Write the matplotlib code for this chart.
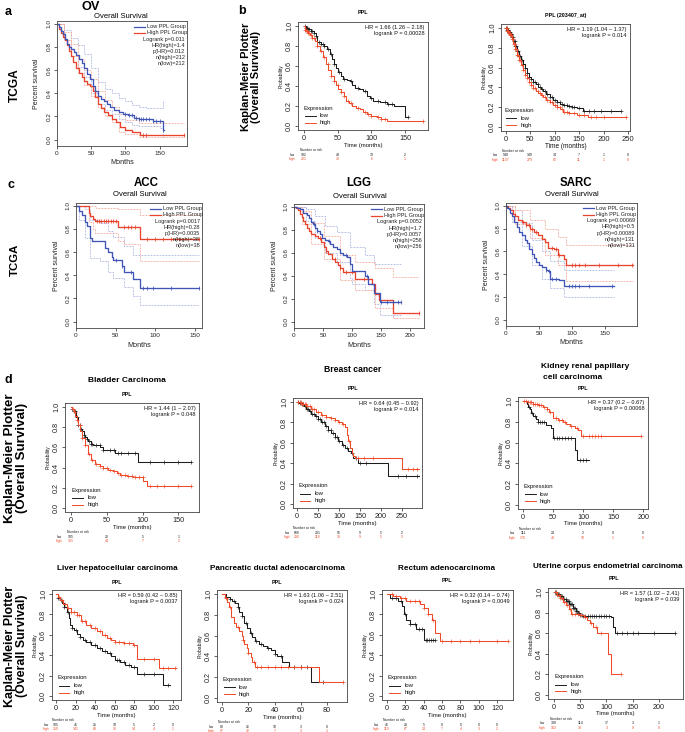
import numpy as np
import matplotlib
matplotlib.use("Agg")
import matplotlib.pyplot as plt

plt.rcParams['font.family'] = ['Liberation Sans', 'DejaVu Sans']

# ======================= DATA =======================
# ---- TCGA / GEPIA panels (months, survival) ----
ov_low_t = [0, 3, 6, 9, 12, 15, 18, 21, 25, 28, 32, 36, 40, 44, 48, 52, 56, 60, 64, 68, 73, 78, 84, 90, 96, 104, 112, 120, 140, 155, 156]
ov_low_s = [1.0, 0.97, 0.94, 0.91, 0.87, 0.83, 0.80, 0.78, 0.76, 0.73, 0.70, 0.66, 0.62, 0.57, 0.52, 0.46, 0.42, 0.38, 0.35, 0.33, 0.31, 0.28, 0.26, 0.24, 0.22, 0.21, 0.19, 0.18, 0.16, 0.08, 0.08]
ov_high_t = [0, 3, 6, 9, 12, 15, 18, 21, 24, 28, 32, 36, 40, 44, 48, 52, 56, 60, 64, 68, 74, 80, 86, 92, 100, 110, 122, 185]
ov_high_s = [1.0, 0.96, 0.92, 0.89, 0.86, 0.82, 0.77, 0.72, 0.67, 0.62, 0.58, 0.54, 0.51, 0.48, 0.46, 0.42, 0.37, 0.31, 0.27, 0.24, 0.21, 0.18, 0.15, 0.11, 0.08, 0.07, 0.04, 0.04]
ov_low_up_t = [0, 10, 20, 30, 40, 50, 60, 70, 80, 90, 100, 110, 120, 130, 155, 156]
ov_low_up_s = [1.0, 0.95, 0.88, 0.82, 0.74, 0.62, 0.50, 0.44, 0.40, 0.36, 0.33, 0.30, 0.28, 0.27, 0.33, 0.33]
ov_low_lo_t = [0, 10, 20, 30, 40, 50, 60, 70, 80, 90, 100, 110, 120, 150, 155, 156]
ov_low_lo_s = [1.0, 0.86, 0.72, 0.63, 0.54, 0.40, 0.31, 0.26, 0.22, 0.18, 0.15, 0.13, 0.12, 0.10, 0.02, 0.02]
ov_high_up_t = [0, 10, 20, 30, 40, 50, 60, 70, 80, 90, 100, 120, 185]
ov_high_up_s = [1.0, 0.93, 0.83, 0.70, 0.60, 0.52, 0.42, 0.34, 0.28, 0.22, 0.17, 0.14, 0.14]
ov_high_lo_t = [0, 10, 20, 30, 40, 50, 60, 70, 80, 90, 100, 120, 185]
ov_high_lo_s = [1.0, 0.86, 0.72, 0.58, 0.47, 0.38, 0.28, 0.20, 0.15, 0.07, 0.05, 0.02, 0.02]
ov_low_cens = [100, 105, 110, 115, 120, 123, 126, 130, 135, 140, 145, 150, 155]
ov_high_cens = [125, 130, 185]

acc_low_t = [0, 4, 7, 11, 14, 18, 20, 37, 41, 45, 47, 58, 60, 72, 81, 155]
acc_low_s = [1.0, 0.96, 0.92, 0.86, 0.83, 0.72, 0.70, 0.64, 0.60, 0.56, 0.53, 0.48, 0.43, 0.37, 0.29, 0.29]
acc_high_t = [0, 16, 18, 21, 24, 53, 81, 155]
acc_high_s = [1.0, 0.94, 0.91, 0.89, 0.87, 0.82, 0.71, 0.71]
acc_low_up_t = [0, 4, 11, 18, 30, 41, 47, 60, 72, 81, 155]
acc_low_up_s = [1.0, 1.0, 0.97, 0.88, 0.85, 0.78, 0.73, 0.65, 0.58, 0.58, 0.58]
acc_low_lo_t = [0, 4, 11, 18, 30, 41, 47, 60, 72, 81, 155]
acc_low_lo_s = [1.0, 0.88, 0.72, 0.55, 0.52, 0.43, 0.38, 0.30, 0.22, 0.14, 0.14]
acc_high_up_t = [0, 16, 25, 53, 81, 155]
acc_high_up_s = [1.0, 1.0, 0.98, 0.97, 0.92, 0.92]
acc_high_lo_t = [0, 16, 21, 24, 53, 60, 81, 155]
acc_high_lo_s = [1.0, 0.86, 0.80, 0.77, 0.70, 0.67, 0.52, 0.52]
acc_low_cens = [50, 58, 70, 85, 90, 97, 120, 155]
acc_high_cens = [26, 29, 32, 35, 38, 41, 44, 47, 50, 60, 65, 70, 75, 90, 100, 110, 120, 130, 155]

lgg_low_t = [0, 6, 10, 16, 22, 26, 30, 33, 36, 40, 45, 49, 53, 58, 62, 68, 74, 80, 85, 92, 97, 100, 122, 128, 137, 148, 185]
lgg_low_s = [1.0, 0.99, 0.98, 0.95, 0.93, 0.90, 0.87, 0.85, 0.82, 0.79, 0.76, 0.73, 0.71, 0.70, 0.68, 0.65, 0.63, 0.60, 0.58, 0.56, 0.50, 0.44, 0.40, 0.33, 0.25, 0.17, 0.17]
lgg_high_t = [0, 4, 7, 10, 13, 16, 19, 22, 26, 30, 36, 42, 46, 51, 55, 59, 65, 71, 75, 79, 85, 105, 134, 140, 147, 171, 215]
lgg_high_s = [1.0, 0.99, 0.97, 0.94, 0.91, 0.88, 0.85, 0.82, 0.79, 0.76, 0.75, 0.73, 0.69, 0.65, 0.62, 0.59, 0.55, 0.52, 0.49, 0.47, 0.43, 0.37, 0.33, 0.24, 0.19, 0.08, 0.08]
lgg_low_up_t = [0, 20, 36, 53, 74, 97, 122, 137, 148, 185]
lgg_low_up_s = [1.0, 0.98, 0.92, 0.83, 0.78, 0.65, 0.58, 0.50, 0.50, 0.50]
lgg_low_lo_t = [0, 20, 36, 53, 74, 97, 100, 122, 137, 148, 185]
lgg_low_lo_s = [1.0, 0.88, 0.73, 0.60, 0.52, 0.38, 0.33, 0.28, 0.15, 0.06, 0.06]
lgg_high_up_t = [0, 13, 30, 51, 79, 105, 140, 171, 215]
lgg_high_up_s = [1.0, 0.96, 0.86, 0.75, 0.58, 0.52, 0.47, 0.39, 0.39]
lgg_high_lo_t = [0, 13, 30, 51, 79, 105, 140, 171, 215]
lgg_high_lo_s = [1.0, 0.85, 0.68, 0.55, 0.36, 0.28, 0.12, 0.03, 0.03]
lgg_low_cens = [35, 40, 60, 90, 125, 150, 160, 170, 180, 185]
lgg_high_cens = [45, 55, 70, 80, 90, 100, 120, 215]

sarc_low_t = [0, 2, 4, 6, 9, 12, 16, 20, 24, 28, 31, 35, 39, 43, 46, 50, 54, 60, 64, 67, 80, 87, 163]
sarc_low_s = [1.0, 0.98, 0.97, 0.94, 0.91, 0.86, 0.81, 0.77, 0.74, 0.70, 0.67, 0.62, 0.58, 0.54, 0.51, 0.48, 0.46, 0.44, 0.43, 0.36, 0.35, 0.30, 0.30]
sarc_high_t = [0, 3, 6, 10, 14, 18, 24, 30, 36, 42, 49, 54, 59, 64, 72, 79, 87, 91, 192]
sarc_high_s = [1.0, 0.98, 0.96, 0.93, 0.91, 0.88, 0.86, 0.83, 0.80, 0.77, 0.74, 0.71, 0.68, 0.63, 0.62, 0.57, 0.53, 0.48, 0.48]
sarc_low_up_t = [0, 9, 24, 39, 54, 67, 87, 163]
sarc_low_up_s = [1.0, 0.96, 0.85, 0.70, 0.60, 0.52, 0.44, 0.44]
sarc_low_lo_t = [0, 9, 24, 39, 54, 67, 87, 163]
sarc_low_lo_s = [1.0, 0.86, 0.65, 0.48, 0.36, 0.28, 0.20, 0.20]
sarc_high_up_t = [0, 14, 36, 59, 79, 91, 192]
sarc_high_up_s = [1.0, 0.96, 0.88, 0.80, 0.73, 0.66, 0.66]
sarc_high_lo_t = [0, 14, 36, 59, 79, 91, 192]
sarc_high_lo_s = [1.0, 0.84, 0.72, 0.57, 0.48, 0.34, 0.34]
sarc_low_cens = [60, 65, 70, 75, 95, 100, 105, 110, 125, 160]
sarc_high_cens = [25, 30, 35, 40, 45, 70, 75, 80, 100, 105, 110, 120, 140, 170, 190]

# ---- Kaplan-Meier Plotter panels ----
b1_low_t = [0, 3, 6, 10, 15, 18, 20, 25, 30, 34, 38, 41, 44, 48, 51, 55, 58, 64, 68, 72, 76, 82, 88, 93, 98, 103, 113, 123, 133, 150, 155]
b1_low_s = [1.0, 0.98, 0.97, 0.95, 0.93, 0.90, 0.84, 0.82, 0.80, 0.77, 0.72, 0.67, 0.62, 0.58, 0.54, 0.50, 0.47, 0.46, 0.45, 0.41, 0.38, 0.37, 0.35, 0.30, 0.28, 0.255, 0.24, 0.22, 0.20, 0.09, 0.09]
b1_high_t = [0, 2, 4, 6, 9, 12, 16, 20, 24, 28, 32, 36, 40, 44, 48, 51, 55, 59, 63, 67, 71, 77, 83, 88, 93, 100, 108, 115, 123, 177]
b1_high_s = [1.0, 0.96, 0.95, 0.93, 0.91, 0.88, 0.85, 0.80, 0.75, 0.69, 0.62, 0.56, 0.50, 0.45, 0.41, 0.37, 0.34, 0.30, 0.255, 0.23, 0.20, 0.18, 0.17, 0.14, 0.12, 0.10, 0.09, 0.07, 0.05, 0.05]
b1_low_cens = [2, 3, 4, 5, 6, 8, 10, 12, 15, 18, 22, 25, 28, 30, 35, 40, 45, 52, 60, 70, 80, 90, 100, 110, 120, 125, 130, 155]
b1_high_cens = [2, 3, 4, 5, 6, 8, 10, 12, 15, 20, 25, 30, 35, 40, 45, 50, 55, 60, 65, 70, 80, 90, 95, 100, 110, 115, 120, 177]
b1_nar_t = [0, 50, 100, 150]
b1_nar_low = [192, 48, 13, 2]
b1_nar_high = [221, 38, 6, 1]

b2_low_t = [0, 3, 6, 9, 12, 15, 19, 23, 27, 31, 35, 39, 43, 47, 51, 56, 61, 67, 72, 77, 83, 90, 97, 104, 111, 118, 126, 135, 145, 158, 236]
b2_low_s = [1.0, 0.98, 0.96, 0.94, 0.91, 0.87, 0.82, 0.77, 0.72, 0.68, 0.64, 0.60, 0.55, 0.51, 0.48, 0.45, 0.43, 0.40, 0.38, 0.36, 0.33, 0.30, 0.27, 0.25, 0.23, 0.22, 0.21, 0.20, 0.19, 0.16, 0.16]
b2_high_t = [0, 3, 6, 9, 12, 15, 19, 23, 27, 31, 35, 39, 43, 47, 51, 56, 61, 67, 72, 77, 83, 90, 97, 104, 111, 118, 130, 145, 168, 245]
b2_high_s = [1.0, 0.97, 0.95, 0.925, 0.89, 0.84, 0.79, 0.73, 0.68, 0.63, 0.58, 0.53, 0.49, 0.45, 0.42, 0.39, 0.36, 0.34, 0.32, 0.30, 0.27, 0.25, 0.22, 0.20, 0.18, 0.15, 0.14, 0.125, 0.10, 0.10]
b2_low_cens = [1, 2, 3, 4, 5, 6, 7, 8, 9, 10, 11, 12, 14, 16, 18, 20, 22, 24, 26, 28, 30, 33, 36, 40, 44, 48, 52, 56, 60, 65, 70, 75, 80, 85, 90, 95, 100, 105, 110, 115, 120, 125, 130, 135, 140, 150, 160, 170, 180, 195, 215, 236]
b2_high_cens = [1, 2, 3, 4, 5, 6, 7, 8, 9, 10, 11, 12, 14, 16, 18, 20, 22, 24, 26, 28, 30, 33, 36, 40, 44, 48, 52, 56, 60, 65, 70, 75, 80, 85, 90, 95, 100, 105, 110, 115, 120, 125, 130, 140, 150, 160, 175, 185, 200, 245]
b2_nar_t = [0, 50, 100, 150, 200, 250]
b2_nar_low = [548, 149, 34, 7, 1, 0]
b2_nar_high = [1107, 279, 63, 11, 1, 0]

bl_low_t = [0, 2, 4, 7, 10, 13, 15, 18, 20, 22, 24, 28, 31, 41, 45, 61, 94, 168]
bl_low_s = [1.0, 0.98, 0.96, 0.90, 0.82, 0.78, 0.76, 0.72, 0.70, 0.68, 0.66, 0.63, 0.62, 0.60, 0.57, 0.54, 0.46, 0.46]
bl_high_t = [0, 2, 4, 6, 8, 10, 13, 16, 20, 24, 28, 34, 40, 45, 52, 59, 64, 68, 78, 87, 101, 106, 168]
bl_high_s = [1.0, 0.98, 0.95, 0.91, 0.87, 0.82, 0.76, 0.69, 0.62, 0.53, 0.48, 0.44, 0.42, 0.40, 0.38, 0.37, 0.35, 0.33, 0.32, 0.31, 0.27, 0.22, 0.22]
bl_low_cens = [2, 4, 6, 8, 10, 12, 14, 16, 18, 20, 22, 25, 28, 30, 35, 40, 45, 55, 60, 65, 70, 80, 90, 110, 130, 150, 168]
bl_high_cens = [3, 5, 8, 12, 16, 20, 25, 30, 35, 40, 45, 50, 55, 60, 65, 70, 75, 80, 85, 90, 95, 100, 110, 120, 130, 150, 168]
bl_nar_t = [0, 50, 100, 150]
bl_nar_low = [105, 22, 5, 1]
bl_nar_high = [301, 44, 7, 2]

br_low_t = [0, 5, 10, 16, 22, 28, 34, 42, 50, 58, 66, 74, 82, 90, 98, 106, 114, 122, 128, 134, 146, 216, 290]
br_low_s = [1.0, 0.99, 0.98, 0.96, 0.93, 0.91, 0.88, 0.86, 0.83, 0.80, 0.77, 0.73, 0.70, 0.66, 0.62, 0.58, 0.55, 0.52, 0.50, 0.45, 0.40, 0.27, 0.27]
br_high_t = [0, 10, 22, 34, 46, 58, 70, 80, 90, 98, 106, 114, 118, 122, 126, 130, 134, 138, 250, 290]
br_high_s = [1.0, 0.98, 0.96, 0.93, 0.90, 0.87, 0.85, 0.84, 0.82, 0.80, 0.78, 0.76, 0.68, 0.62, 0.55, 0.50, 0.47, 0.45, 0.34, 0.34]
br_low_cens = [3, 6, 9, 12, 15, 18, 21, 24, 27, 30, 35, 40, 45, 50, 55, 60, 65, 70, 75, 80, 85, 90, 95, 100, 110, 120, 130, 140, 150, 165, 240, 260, 285]
br_high_cens = [3, 6, 9, 12, 15, 18, 21, 25, 30, 35, 40, 50, 60, 70, 80, 90, 100, 110, 125, 145, 160, 180, 265, 275, 285]
br_nar_t = [0, 50, 100, 150, 200, 250]
br_nar_low = [699, 201, 56, 9, 5, 2]
br_nar_high = [290, 119, 38, 9, 5, 3]

kd_low_t = [0, 6, 9, 11, 14, 17, 21, 25, 39, 47, 50, 87, 90, 110]
kd_low_s = [1.0, 0.97, 0.94, 0.92, 0.89, 0.86, 0.83, 0.80, 0.77, 0.74, 0.64, 0.53, 0.43, 0.43]
kd_high_t = [0, 8, 17, 25, 33, 40, 44, 50, 58, 67, 72, 78, 86, 92, 97, 197]
kd_high_s = [1.0, 0.99, 0.97, 0.96, 0.94, 0.92, 0.90, 0.84, 0.82, 0.80, 0.78, 0.76, 0.74, 0.72, 0.66, 0.66]
kd_low_cens = [10, 15, 20, 25, 28, 31, 35, 52, 56, 60, 65, 70, 75, 80, 95, 100, 105]
kd_high_cens = [2, 5, 8, 11, 14, 17, 20, 23, 26, 30, 35, 40, 45, 55, 60, 65, 70, 80, 90, 100, 110, 115, 120, 125, 130, 197]
kd_nar_t = [0, 50, 100, 150, 200]
kd_nar_low = [111, 24, 2, 0, 0]
kd_nar_high = [176, 49, 10, 1, 0]

lv_low_t = [0, 2, 4, 6, 8, 11, 13, 14, 16, 18, 22, 25, 28, 31, 36, 42, 47, 52, 56, 60, 66, 71, 77, 83, 110, 117]
lv_low_s = [1.0, 0.96, 0.94, 0.91, 0.87, 0.82, 0.77, 0.70, 0.67, 0.65, 0.61, 0.58, 0.55, 0.53, 0.50, 0.47, 0.44, 0.42, 0.39, 0.35, 0.33, 0.30, 0.28, 0.22, 0.11, 0.11]
lv_high_t = [0, 2, 4, 7, 11, 15, 21, 26, 31, 36, 42, 47, 52, 56, 60, 70, 79, 83, 105, 123]
lv_high_s = [1.0, 0.97, 0.94, 0.90, 0.86, 0.82, 0.79, 0.74, 0.70, 0.67, 0.64, 0.60, 0.57, 0.55, 0.53, 0.52, 0.50, 0.36, 0.27, 0.27]
lv_low_cens = [2, 5, 8, 12, 16, 20, 25, 30, 35, 40, 45, 50, 55, 62, 65, 70, 75, 80, 90, 100, 115]
lv_high_cens = [3, 6, 9, 12, 15, 18, 21, 24, 27, 30, 35, 40, 45, 50, 55, 60, 65, 70, 75, 80, 90, 100, 110, 115, 122]
lv_nar_t = [0, 20, 40, 60, 80, 100, 120]
lv_nar_low = [105, 41, 21, 10, 5, 2, 0]
lv_nar_high = [259, 141, 60, 32, 14, 4, 1]

pc_low_t = [0, 3, 6, 8, 10, 12, 13, 15, 17, 19, 21, 23, 25, 28, 31, 34, 37, 40, 42, 46, 51, 68, 77]
pc_low_s = [1.0, 0.97, 0.95, 0.93, 0.91, 0.88, 0.83, 0.79, 0.72, 0.67, 0.63, 0.59, 0.55, 0.52, 0.50, 0.48, 0.46, 0.42, 0.40, 0.35, 0.30, 0.15, 0.15]
pc_high_t = [0, 2, 4, 5, 7, 9, 11, 13, 15, 16, 17, 19, 20, 22, 23, 25, 74, 92]
pc_high_s = [1.0, 0.96, 0.92, 0.88, 0.78, 0.72, 0.68, 0.64, 0.60, 0.56, 0.52, 0.48, 0.43, 0.39, 0.35, 0.30, 0.15, 0.15]
pc_low_cens = [3, 6, 9, 12, 15, 18, 22, 26, 30, 35, 40, 45, 55, 60, 65, 77]
pc_high_cens = [3, 6, 12, 16, 20, 24, 27, 30, 35, 40, 45, 50, 55, 60, 92]
pc_nar_t = [0, 20, 40, 60, 80]
pc_nar_low = [80, 26, 10, 3, 0]
pc_nar_high = [97, 32, 7, 3, 1]

rc_low_t = [0, 3, 12, 16, 19, 21, 25, 32, 40, 52]
rc_low_s = [1.0, 0.96, 0.93, 0.88, 0.80, 0.75, 0.71, 0.66, 0.55, 0.55]
rc_high_t = [0, 7, 14, 21, 36, 40, 45, 49, 52, 58, 132]
rc_high_s = [1.0, 0.98, 0.96, 0.93, 0.90, 0.86, 0.80, 0.75, 0.62, 0.54, 0.54]
rc_low_cens = [5, 10, 15, 20, 25, 30, 35, 38, 42, 44, 46, 48, 50, 52]
rc_high_cens = [5, 10, 15, 20, 25, 30, 35, 40, 45, 50, 60, 70, 80, 90, 100, 120, 132]
rc_nar_t = [0, 20, 40, 60, 80, 100, 120]
rc_nar_low = [46, 23, 5, 0, 0, 0, 0]
rc_nar_high = [119, 67, 24, 7, 4, 3, 2]

ut_low_t = [0, 5, 11, 17, 23, 29, 36, 41, 46, 50, 55, 109, 112, 116, 230]
ut_low_s = [1.0, 0.98, 0.96, 0.93, 0.91, 0.88, 0.85, 0.82, 0.80, 0.78, 0.77, 0.76, 0.66, 0.60, 0.60]
ut_high_t = [0, 5, 11, 17, 23, 28, 33, 49, 58, 62, 68, 74, 81, 103, 109, 128]
ut_high_s = [1.0, 0.97, 0.94, 0.90, 0.87, 0.84, 0.79, 0.78, 0.76, 0.73, 0.70, 0.66, 0.60, 0.40, 0.20, 0.20]
ut_low_cens = [2, 4, 6, 8, 10, 12, 14, 16, 18, 20, 22, 24, 26, 28, 30, 32, 34, 36, 38, 40, 42, 44, 46, 48, 50, 53, 56, 60, 64, 68, 72, 76, 80, 85, 90, 95, 100, 105, 120, 130, 140, 150, 160, 190, 230]
ut_high_cens = [3, 6, 9, 12, 15, 20, 25, 30, 35, 40, 45, 52, 60, 70, 80, 90, 128]
ut_nar_t = [0, 50, 100, 150, 200]
ut_nar_low = [380, 114, 17, 3, 1]
ut_nar_high = [162, 33, 3, 0, 0]

# ======================= DRAWING =======================
W, H = 685, 732
fig = plt.figure(figsize=(W / 100, H / 100), dpi=100)
fig.patch.set_facecolor('white')

BLUE, RED = '#3f54b5', '#e8432c'
BLUE_CI, RED_CI = '#aab4e2', '#f3a899'
KBLK, KRED = '#1c1c1c', '#f04b28'


def fx(x):
    return x / W


def fy(y):
    return 1 - y / H


def make_ax(box):
    l, t, r, b = box
    return fig.add_axes([fx(l), fy(b), (r - l) / W, (b - t) / H])


def surv_at(t, s, c):
    t = np.asarray(t)
    s = np.asarray(s)
    idx = np.searchsorted(t, np.asarray(c), side='right') - 1
    return s[np.clip(idx, 0, len(s) - 1)]


def style_axes(ax, xlim, ylim, xticks, fs, ypad, xpad):
    ax.set_xlim(*xlim)
    ax.set_ylim(*ylim)
    ax.set_xticks(xticks)
    ax.set_xticklabels([str(v) for v in xticks])
    yt = [0, 0.2, 0.4, 0.6, 0.8, 1.0]
    ax.set_yticks(yt)
    ax.set_yticklabels([f"{v:.1f}" for v in yt], rotation=90, va='center')
    ax.tick_params(axis='both', length=2.2, width=0.5, labelsize=fs, colors='#222222')
    ax.tick_params(axis='y', pad=ypad)
    ax.tick_params(axis='x', pad=xpad)
    for sp in ax.spines.values():
        sp.set_linewidth(0.6)
        sp.set_color('#444444')


def ptext(x, y, s, **kw):
    fig.text(fx(x), fy(y), s, **kw)


def atext(ax, xf, yf, s, dx=0, dy=0, **kw):
    ax.annotate(s, (xf, yf), xycoords='axes fraction', xytext=(dx, dy),
                textcoords='offset pixels', annotation_clip=False, **kw)


def gepia(box, xlim, xticks, low, high, cis, cens, stats, title, title_xy, sub_xy):
    ax = make_ax(box)
    style_axes(ax, xlim, (-0.055, 1.025), xticks, 4.6, 1.6, 1.4)
    for (t, s), col in zip(cis, [BLUE_CI, BLUE_CI, RED_CI, RED_CI]):
        ax.step(t, s, where='post', color=col, lw=0.6, ls=(0, (2.2, 1.4)))
    for (t, s), cs, col in [(high, cens[1], RED), (low, cens[0], BLUE)]:
        ax.step(t, s, where='post', color=col, lw=0.95)
        ax.plot(cs, surv_at(t, s, cs), ls='none', marker='|', ms=3.2, mew=0.55, color=col)
    # legend
    for yf, col, lab in [(0.956, BLUE, 'Low PPL Group'), (0.906, RED, 'High PPL Group')]:
        ax.plot([0.59, 0.675], [yf, yf], transform=ax.transAxes, color=col, lw=0.9, clip_on=False)
        ax.text(0.69, yf, lab, transform=ax.transAxes, fontsize=4, va='center', ha='left', color='#222222')
    for i, st in enumerate(stats):
        ax.text(0.985, 0.856 - 0.05 * i, st, transform=ax.transAxes, fontsize=4,
                va='center', ha='right', color='#222222')
    atext(ax, 0.5, 0, 'Months', dy=-17, ha='center', va='center', fontsize=5.2, color='#222222')
    atext(ax, 0, 0.5, 'Percent survival', dx=-20, ha='center', va='center', rotation=90,
          fontsize=5.0, color='#222222')
    ptext(*title_xy, title[0], ha='center', va='center', fontsize=title[1], fontweight='bold')
    ptext(*sub_xy, 'Overall Survival', ha='center', va='center', fontsize=5.5)
    return ax


def kmp(box, xlim, xticks, low, high, cens, hr, nar, nar_t, ppl, ppl_xy, leg=(0.045, 0.2, 0.13, 0.068),
        fs_tick=5.2, fs_lab=4.3):
    ax = make_ax(box)
    style_axes(ax, xlim, (-0.04, 1.04), xticks, fs_tick, 1.4, 1.2)
    for (t, s), cs, col in [(low, cens[0], KBLK), (high, cens[1], KRED)]:
        ax.step(t, s, where='post', color=col, lw=0.75)
        ax.plot(cs, surv_at(t, s, cs), ls='none', marker='+', ms=2.6, mew=0.45, color=col)
    ax.text(0.975, 0.975, hr, transform=ax.transAxes, ha='right', va='top', fontsize=4.1,
            linespacing=1.25, color='#111111')
    ex, ey, ly1, ly2 = leg
    ax.text(ex, ey, 'Expression', transform=ax.transAxes, ha='left', va='center', fontsize=4.3, color='#111111')
    for yy, col, lab in [(ly1, KBLK, 'low'), (ly2, KRED, 'high')]:
        ax.plot([ex + 0.01, ex + 0.09], [yy, yy], transform=ax.transAxes, color=col, lw=0.7, clip_on=False)
        ax.text(ex + 0.125, yy, lab, transform=ax.transAxes, ha='left', va='center', fontsize=4.3, color='#111111')
    atext(ax, 0.5, 0, 'Time (months)', dy=-15, ha='center', va='center', fontsize=fs_lab, color='#111111')
    atext(ax, 0, 0.5, 'Probability', dx=-17, ha='center', va='center', rotation=90, fontsize=3.6,
          color='#111111')
    ptext(*ppl_xy, ppl, ha='center', va='center', fontsize=3.9, fontweight='bold')
    # number at risk table
    l, t, r, b = box
    x0px = l + (0 - xlim[0]) / (xlim[1] - xlim[0]) * (r - l)
    ptext(x0px - 4, b + 20, 'Number at risk', ha='left', va='center', fontsize=2.4, color='#222222')
    ptext(l - 3, b + 24.5, 'low', ha='right', va='center', fontsize=2.5, color=KBLK)
    ptext(l - 3, b + 29, 'high', ha='right', va='center', fontsize=2.5, color=KRED)
    for tt, nl, nh in zip(nar_t, nar[0], nar[1]):
        xp = l + (tt - xlim[0]) / (xlim[1] - xlim[0]) * (r - l)
        ptext(xp, b + 24.5, str(nl), ha='center', va='center', fontsize=2.5, color=KBLK)
        ptext(xp, b + 29, str(nh), ha='center', va='center', fontsize=2.5, color=KRED)
    return ax


# ---------- row labels ----------
ptext(8, 12, 'a', ha='center', va='center', fontsize=9, fontweight='bold')
ptext(242, 11, 'b', ha='center', va='center', fontsize=9, fontweight='bold')
ptext(11, 185, 'c', ha='center', va='center', fontsize=9, fontweight='bold')
ptext(8, 380, 'd', ha='center', va='center', fontsize=9, fontweight='bold')
ptext(15, 85, 'TCGA', ha='center', va='center', rotation=90, fontsize=8.6, fontweight='bold')
ptext(15, 260, 'TCGA', ha='center', va='center', rotation=90, fontsize=8.2, fontweight='bold')
KMP = 'Kaplan-Meier Plotter\n(Overall Survival)'
ptext(251, 77, KMP, ha='center', va='center', rotation=90, fontsize=8.0, fontweight='bold', linespacing=1.05)
ptext(16, 458, KMP, ha='center', va='center', rotation=90, fontsize=9.6, fontweight='bold', linespacing=1.0)
ptext(16, 646, KMP, ha='center', va='center', rotation=90, fontsize=8.9, fontweight='bold', linespacing=1.0)

# ---------- GEPIA panels ----------
gepia((57, 21, 187, 146), (0, 190), [0, 50, 100, 150],
      (ov_low_t, ov_low_s), (ov_high_t, ov_high_s),
      [(ov_low_up_t, ov_low_up_s), (ov_low_lo_t, ov_low_lo_s), (ov_high_up_t, ov_high_up_s), (ov_high_lo_t, ov_high_lo_s)],
      (ov_low_cens, ov_high_cens),
      ['Logrank p=0.011', 'HR(high)=1.4', 'p(HR)=0.012', 'n(high)=212', 'n(low)=212'],
      ('OV', 9.2), (91, 7), (121, 17))

gepia((76, 203, 202, 328), (0, 159), [0, 50, 100, 150],
      (acc_low_t, acc_low_s), (acc_high_t, acc_high_s),
      [(acc_low_up_t, acc_low_up_s), (acc_low_lo_t, acc_low_lo_s), (acc_high_up_t, acc_high_up_s), (acc_high_lo_t, acc_high_lo_s)],
      (acc_low_cens, acc_high_cens),
      ['Logrank p=0.0017', 'HR(high)=0.28', 'p(HR)=0.0035', 'n(high)=38', 'n(low)=38'],
      ('ACC', 8.3), (146, 183), (140, 195))

gepia((294, 204, 424, 328), (0, 224), [0, 50, 100, 150, 200],
      (lgg_low_t, lgg_low_s), (lgg_high_t, lgg_high_s),
      [(lgg_low_up_t, lgg_low_up_s), (lgg_low_lo_t, lgg_low_lo_s), (lgg_high_up_t, lgg_high_up_s), (lgg_high_lo_t, lgg_high_lo_s)],
      (lgg_low_cens, lgg_high_cens),
      ['Logrank p=0.0052', 'HR(high)=1.7', 'p(HR)=0.0057', 'n(high)=256', 'n(low)=256'],
      ('LGG', 8.3), (359, 183), (360, 196))

gepia((506, 203, 637, 326), (0, 198), [0, 50, 100, 150],
      (sarc_low_t, sarc_low_s), (sarc_high_t, sarc_high_s),
      [(sarc_low_up_t, sarc_low_up_s), (sarc_low_lo_t, sarc_low_lo_s), (sarc_high_up_t, sarc_high_up_s), (sarc_high_lo_t, sarc_high_lo_s)],
      (sarc_low_cens, sarc_high_cens),
      ['Logrank p=0.00069', 'HR(high)=0.5', 'p(HR)=0.00089', 'n(high)=131', 'n(low)=131'],
      ('SARC', 8.3), (576, 183), (572, 195))

# ---------- KM plotter panels ----------
kmp((298, 22, 428, 130), (-8.9, 184.2), [0, 50, 100, 150],
    (b1_low_t, b1_low_s), (b1_high_t, b1_high_s), (b1_low_cens, b1_high_cens),
    'HR = 1.66 (1.26 \u2013 2.18)\nlogrank P = 0.00028', (b1_nar_low, b1_nar_high), b1_nar_t,
    'PPL', (363, 13))

kmp((501, 24, 630, 131), (-9.6, 254), [0, 50, 100, 150, 200, 250],
    (b2_low_t, b2_low_s), (b2_high_t, b2_high_s), (b2_low_cens, b2_high_cens),
    'HR = 1.19 (1.04 \u2013 1.37)\nlogrank P = 0.014', (b2_nar_low, b2_nar_high), b2_nar_t,
    'PPL (203407_at)', (566, 15), leg=(0.025, 0.196, 0.12, 0.056), fs_tick=5.5, fs_lab=4.7)

kmp((65, 403, 199, 512), (-8.4, 178.8), [0, 50, 100, 150],
    (bl_low_t, bl_low_s), (bl_high_t, bl_high_s), (bl_low_cens, bl_high_cens),
    'HR = 1.44 (1 \u2013 2.07)\nlogrank P = 0.048', (bl_nar_low, bl_nar_high), bl_nar_t,
    'PPL', (127, 395))
ptext(127, 381, 'Bladder Carcinoma', ha='center', va='center', fontsize=6, fontweight='bold')

kmp((293, 398, 422, 508), (-9.5, 297.6), [0, 50, 100, 150, 200, 250],
    (br_low_t, br_low_s), (br_high_t, br_high_s), (br_low_cens, br_high_cens),
    'HR = 0.64 (0.45 \u2013 0.92)\nlogrank P = 0.014', (br_nar_low, br_nar_high), br_nar_t,
    'PPL', (353, 389))
ptext(353, 370, 'Breast cancer', ha='center', va='center', fontsize=6.2, fontweight='bold')

kmp((518, 397, 648, 509), (-8.3, 208), [0, 50, 100, 150, 200],
    (kd_low_t, kd_low_s), (kd_high_t, kd_high_s), (kd_low_cens, kd_high_cens),
    'HR = 0.37 (0.2 \u2013 0.67)\nlogrank P = 0.00068', (kd_nar_low, kd_nar_high), kd_nar_t,
    'PPL', (583, 388))
ptext(541, 367, 'Kidney renal papillary', ha='left', va='center', fontsize=6, fontweight='bold')
ptext(543, 377.5, 'cell carcinoma', ha='left', va='center', fontsize=6, fontweight='bold')

kmp((52, 590, 181, 700), (-4.1, 128), [0, 20, 40, 60, 80, 100, 120],
    (lv_low_t, lv_low_s), (lv_high_t, lv_high_s), (lv_low_cens, lv_high_cens),
    'HR = 0.59 (0.42 \u2013 0.85)\nlogrank P = 0.0037', (lv_nar_low, lv_nar_high), lv_nar_t,
    'PPL', (117, 582))
ptext(117, 569, 'Liver hepatocellular carcinoma', ha='center', va='center', fontsize=5.9, fontweight='bold')

kmp((217, 590, 347, 702), (-3.8, 95.2), [0, 20, 40, 60, 80],
    (pc_low_t, pc_low_s), (pc_high_t, pc_high_s), (pc_low_cens, pc_high_cens),
    'HR = 1.63 (1.06 \u2013 2.51)\nlogrank P = 0.024', (pc_nar_low, pc_nar_high), pc_nar_t,
    'PPL', (277, 582))
ptext(277, 569, 'Pancreatic ductal adenocarcinoma', ha='center', va='center', fontsize=5.9, fontweight='bold')

kmp((382, 590, 513, 700), (-5.5, 137.4), [0, 20, 40, 60, 80, 100, 120],
    (rc_low_t, rc_low_s), (rc_high_t, rc_high_s), (rc_low_cens, rc_high_cens),
    'HR = 0.32 (0.14 \u2013 0.74)\nlogrank P = 0.0049', (rc_nar_low, rc_nar_high), rc_nar_t,
    'PPL', (447, 580))
ptext(447, 568, 'Rectum adenocarcinoma', ha='center', va='center', fontsize=5.9, fontweight='bold')

kmp((548, 588, 683, 699), (-11.4, 245.7), [0, 50, 100, 150, 200],
    (ut_low_t, ut_low_s), (ut_high_t, ut_high_s), (ut_low_cens, ut_high_cens),
    'HR = 1.57 (1.02 \u2013 2.41)\nlogrank P = 0.039', (ut_nar_low, ut_nar_high), ut_nar_t,
    'PPL', (614, 578))
ptext(608, 567, 'Uterine corpus endometrial carcinoma', ha='center', va='center', fontsize=5.9, fontweight='bold')

fig.savefig('out.png', dpi=100, facecolor='white')
